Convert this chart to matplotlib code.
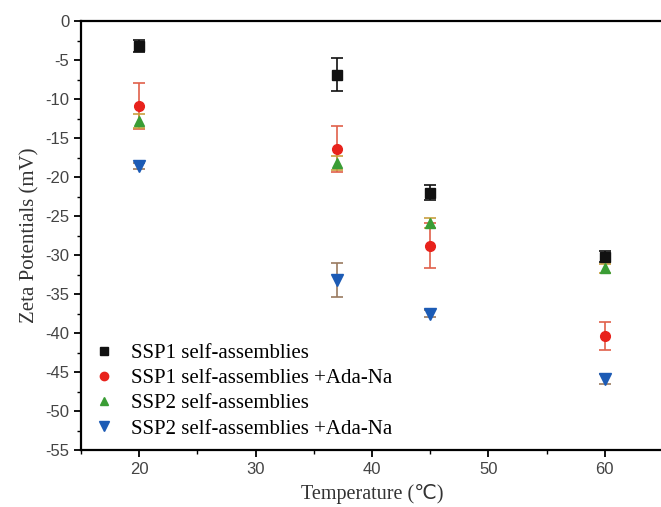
import matplotlib
matplotlib.use("Agg")
import matplotlib.pyplot as plt
from matplotlib.ticker import MultipleLocator
from matplotlib.lines import Line2D

plt.rcParams["axes.unicode_minus"] = False

temps = [20, 37, 45, 60]
labels = ["SSP1 self-assemblies", "SSP1 self-assemblies +Ada-Na",
          "SSP2 self-assemblies", "SSP2 self-assemblies +Ada-Na"]
ssp1 = [-3.2, -6.9, -22.0, -30.2]
ssp1_err = [0.8, 2.1, 1.0, 0.7]
ssp1_ada = [-10.9, -16.4, -28.8, -40.4]
ssp1_ada_err = [2.9, 2.9, 2.9, 1.8]
ssp2 = [-12.8, -18.2, -25.9, -31.7]
ssp2_err = [0.9, 0.9, 0.6, 0.6]
ssp2_ada = [-18.6, -33.2, -37.5, -45.9]
ssp2_ada_err = [0.4, 2.2, 0.5, 0.6]

xticks = [20, 30, 40, 50, 60]
yticks = list(range(0, -60, -5))

series = [
    (ssp1, ssp1_err, "s", "#111111", "#111111", 7),
    (ssp1_ada, ssp1_ada_err, "o", "#e8221c", "#e0604a", 7),
    (ssp2, ssp2_err, "^", "#3a9d35", "#c9a040", 7),
    (ssp2_ada, ssp2_ada_err, "v", "#1c5bb5", "#9a7a60", 8),
]

fig = plt.figure(figsize=(6.61, 5.07), dpi=100)
ax = fig.add_axes([81/661, 1 - 450/507, (663-81)/661, (450-21)/507])

handles = []
for (vals, errs, mk, col, ecol, ms), lab in zip(series, labels):
    ax.errorbar(temps, vals, yerr=errs, fmt=mk, color=col, ecolor=ecol,
                markersize=ms, capsize=4, elinewidth=1.2, capthick=1.2,
                linestyle="none")
    handles.append(Line2D([], [], marker=mk, color=col, linestyle="none",
                          markersize=ms - 1, label=lab))

ax.set_xlim(15, 65)
ax.set_ylim(-55, 0)
ax.set_xticks(xticks)
ax.set_yticks(yticks)
ax.xaxis.set_minor_locator(MultipleLocator(5))
ax.yaxis.set_minor_locator(MultipleLocator(2.5))
ax.tick_params(axis="both", which="major", direction="out", length=5, width=1.3,
               labelsize=12, labelcolor="#444444", top=False, right=False)
ax.tick_params(axis="both", which="minor", direction="out", length=3, width=1.0,
               top=False, right=False)
for lab in ax.get_xticklabels() + ax.get_yticklabels():
    lab.set_family("Liberation Sans")
for sp in ax.spines.values():
    sp.set_linewidth(1.6)

ax.set_ylabel("Zeta Potentials (mV)", family=["Liberation Serif", "DejaVu Serif"],
              fontsize=15, color="#333333", labelpad=4)
ax.set_xlabel("Temperature (\u2103)", family=["Liberation Serif", "DejaVu Sans"],
              fontsize=14.5, color="#333333", labelpad=5)

ax.legend(handles=handles, loc="lower left", bbox_to_anchor=(0.0, 0.0), frameon=False,
          prop={"family": "Liberation Serif", "size": 15},
          handletextpad=0.75, labelspacing=0.27, borderaxespad=0.15,
          handlelength=1.1)

fig.savefig("out.png", dpi=100)
